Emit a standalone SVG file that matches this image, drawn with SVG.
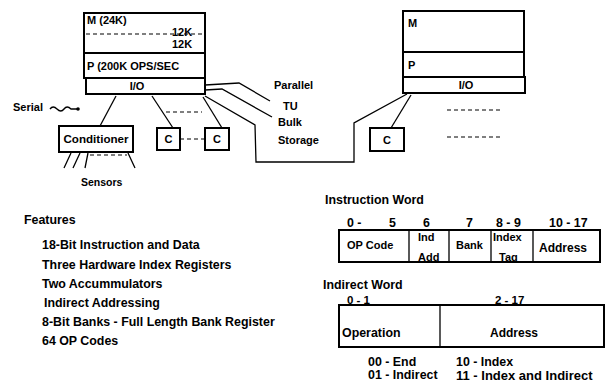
<svg xmlns="http://www.w3.org/2000/svg" width="607" height="382" viewBox="0 0 607 382">
<style>
text{font-family:"Liberation Sans",Arial,sans-serif;font-weight:bold;font-size:11px;fill:#000}
.big{font-size:12.4px}
.box{fill:#fff;stroke:#000;stroke-width:2}
.ln{fill:none;stroke:#000;stroke-width:1.3}
.dash{fill:none;stroke:#000;stroke-width:1.2;stroke-dasharray:4 3}
.m{text-anchor:middle}
</style>
<rect width="607" height="382" fill="#fff"/>
<g id="connectors">
<path class="ln" d="M116,96 L100,126"/>
<path class="ln" d="M152,96 L173,128"/>
<path class="ln" d="M203,97 L222,128"/>
<path class="dash" d="M166,112 H202"/>
<path class="dash" d="M180,139 H205"/>
<path class="ln" d="M205,85 L239,83 L270,101"/>
<path class="ln" d="M205,90 L222,89 L272,117"/>
<path class="ln" d="M205,96 L255,125 L256,162 L354,162 L354,123 L407,94"/>
<path class="ln" d="M411,95 L391,128"/>
<path class="dash" d="M447,110 H502"/>
<path class="dash" d="M447,137 H503" stroke-dasharray="2 3"/>
<path class="ln" d="M71,153 L64,168 M80,153 L73,168 M88,153 L85,168 M128,153 L135,168"/>
<path class="dash" d="M90,155 H127" stroke-dasharray="3 2"/>
<path class="ln" d="M50,109 q3,-4 7,0 t7,0 t7,0 L77,109"/>
<circle cx="78" cy="109" r="1.8" fill="#000"/>
</g>
<g id="left-computer">
<rect class="box" x="84" y="13" width="121" height="40"/>
<path class="dash" d="M86,34 H203"/>
<text x="87" y="24">M (24K)</text>
<text x="172" y="36">12K</text>
<text x="172" y="48">12K</text>
<rect class="box" x="84" y="53" width="121" height="25"/>
<text x="87" y="70">P (200K OPS/SEC</text>
<rect class="box" x="86" y="78" width="119" height="16"/>
<text class="m" x="137" y="90">I/O</text>
</g>
<g id="right-computer">
<rect class="box" x="403" y="11" width="121" height="41"/>
<text x="408" y="27">M</text>
<rect class="box" x="403" y="52" width="121" height="25"/>
<text x="408" y="69">P</text>
<rect class="box" x="403" y="77" width="122" height="16"/>
<text class="m" x="466" y="89">I/O</text>
</g>
<g id="conditioner">
<rect class="box" x="59" y="126" width="74" height="26"/>
<text class="m" x="96" y="143" style="font-size:11.6px">Conditioner</text>
</g>
<g id="c1">
<rect class="box" x="157" y="128" width="23" height="22"/>
<text class="m" x="168.5" y="143">C</text>
</g>
<g id="c2">
<rect class="box" x="205" y="128" width="24" height="22"/>
<text class="m" x="217" y="143">C</text>
</g>
<g id="c3">
<rect class="box" x="370" y="128" width="34" height="23"/>
<text class="m" x="387" y="144">C</text>
</g>
<g id="labels">
<text x="13" y="111">Serial</text>
<text x="274" y="89">Parallel</text>
<text x="283" y="110">TU</text>
<text x="278" y="126">Bulk</text>
<text x="278" y="144">Storage</text>
<text x="81" y="186" style="font-size:10.5px">Sensors</text>
</g>
<g id="features">
<text class="big" x="24" y="224">Features</text>
<text class="big" x="42" y="249">18-Bit Instruction and Data</text>
<text class="big" x="42" y="269">Three Hardware Index Registers</text>
<text class="big" x="42" y="288">Two Accummulators</text>
<text class="big" x="44" y="307">Indirect Addressing</text>
<text class="big" x="42" y="326">8-Bit Banks - Full Length Bank Register</text>
<text class="big" x="42" y="345">64 OP Codes</text>
</g>
<g id="instruction-word">
<text class="big" x="325" y="204">Instruction Word</text>
<text class="big" x="347" y="227">0 -</text>
<text class="big" x="389" y="227">5</text>
<text class="big" x="423" y="227">6</text>
<text class="big" x="466" y="227">7</text>
<text class="big" x="496" y="227">8 - 9</text>
<text class="big" x="549" y="227">10 - 17</text>
<rect class="box" x="339" y="230" width="261" height="32"/>
<path class="ln" d="M409,230 V262 M449,230 V262 M491,230 V262 M533,230 V262" stroke-width="1.5"/>
<text x="347" y="249">OP Code</text>
<text x="418" y="241">Ind</text>
<text x="418" y="261">Add</text>
<text x="456" y="249">Bank</text>
<text x="493" y="241">Index</text>
<text x="499" y="261">Tag</text>
<text x="539" y="252" style="font-size:12px">Address</text>
</g>
<g id="indirect-word">
<text class="big" x="323" y="289">Indirect Word</text>
<text x="347" y="304" style="font-size:11.5px">0 - 1</text>
<text x="495" y="304" style="font-size:11.5px">2 - 17</text>
<rect class="box" x="339" y="305" width="265" height="42"/>
<path class="ln" d="M440,305 V347" stroke-width="1.5"/>
<text class="big" x="342" y="337">Operation</text>
<text class="m" x="514" y="337" style="font-size:12px">Address</text>
<text class="big" x="368" y="366">00 - End</text>
<text class="big" x="456" y="366">10 - Index</text>
<text class="big" x="368" y="379">01 - Indirect</text>
<text x="456" y="380" style="font-size:13px">11 - Index and Indirect</text>
</g>
</svg>
